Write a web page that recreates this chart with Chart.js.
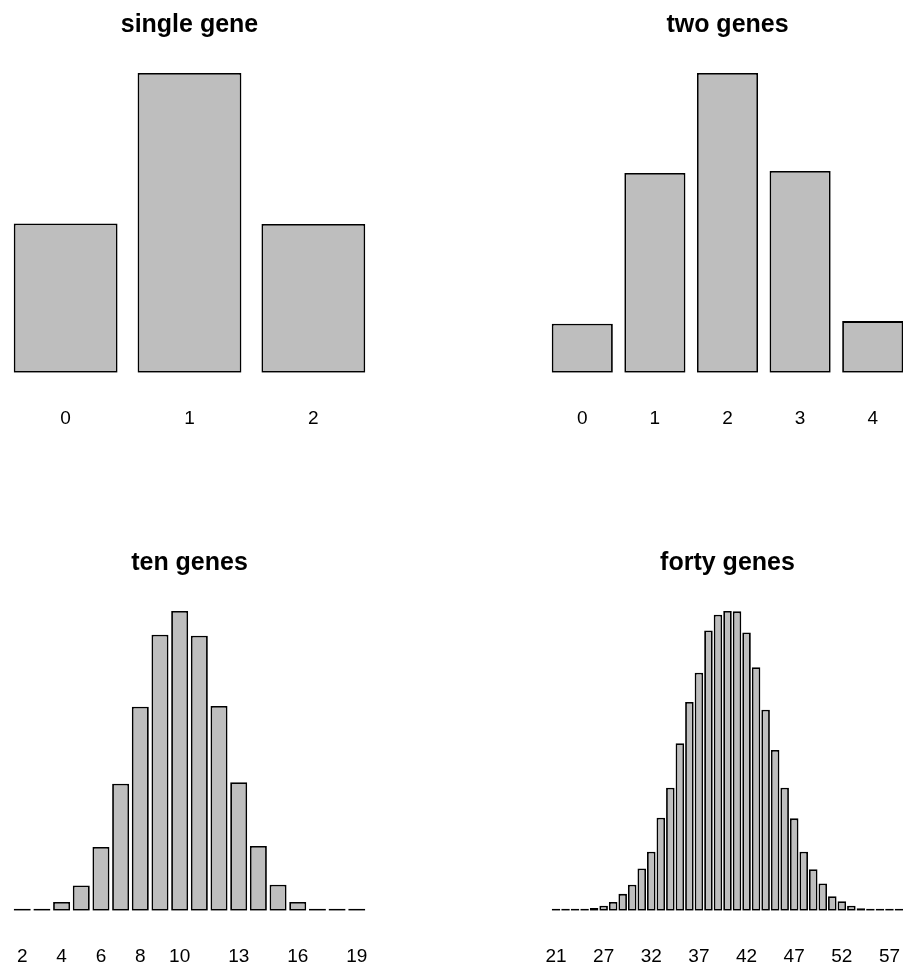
<!DOCTYPE html>
<html>
<head>
<meta charset="utf-8">
<script src="https://cdn.jsdelivr.net/npm/chart.js@4.4.1/dist/chart.umd.min.js"></script>
<style>
  html, body { margin: 0; padding: 0; background: #ffffff; overflow: hidden; }
  #page { position: relative; width: 903px; height: 963px; overflow: hidden; background: #ffffff; }
  .panel { position: absolute; }
  .panel canvas { display: block; }
</style>
</head>
<body>
<div id="page">
  <div class="panel" id="panelSingle"><canvas id="chartSingle"></canvas></div>
  <div class="panel" id="panelTwo"><canvas id="chartTwo"></canvas></div>
  <div class="panel" id="panelTen"><canvas id="chartTen"></canvas></div>
  <div class="panel" id="panelForty"><canvas id="chartForty"></canvas></div>
</div>
<script>
// Number of individuals carrying each count of "+" alleles, by number of genes.
const singleGeneLabels = ['0', '1', '2'];
const singleGeneCounts = [2497, 5015, 2488];
const singleGeneShown  = ['0', '1', '2'];

const twoGeneLabels = ['0', '1', '2', '3', '4'];
const twoGeneCounts = [611, 2493, 3740, 2518, 644];
const twoGeneShown  = ['0', '1', '2', '3', '4'];

const tenGeneLabels = ['2', '3', '4', '5', '6', '7', '8', '9', '10', '11',
                       '12', '13', '14', '15', '16', '17', '18', '19'];
const tenGeneCounts = [2, 10, 51, 148, 375, 747, 1199, 1623, 1762, 1617,
                       1203, 755, 380, 153, 51, 8, 1, 1];
const tenGeneShown  = ['2', '4', '6', '8', '10', '13', '16', '19'];

const fortyGeneLabels = ['21', '23', '24', '25', '26', '27', '28', '29', '30', '31',
                         '32', '33', '34', '35', '36', '37', '38', '39', '40', '41',
                         '42', '43', '44', '45', '46', '47', '48', '49', '50', '51',
                         '52', '53', '54', '55', '56', '57', '58'];
const fortyGeneCounts = [1, 1, 2, 3, 8, 15, 26, 50, 77, 125,
                         175, 276, 365, 497, 619, 706, 831, 878, 889, 888,
                         825, 722, 596, 477, 365, 274, 175, 123, 81, 43,
                         28, 15, 7, 3, 2, 1, 1];
const fortyGeneShown  = ['21', '27', '32', '37', '42', '47', '52', '57'];

// Panel geometry (barplot-style: unit-width bars, 0.2 spacing, 4% padding)
const PLOT_W = 379;
const BASE_Y = 373;          // baseline of bars within a panel
const TOP_Y = 61;            // top of the value range (max * 1.04)
const FONT = "'Liberation Sans', Arial, Helvetica, sans-serif";
const TITLE_SIZE = 25;
const TICK_SIZE = 19;
const TICK_GAP = 34.5;       // distance from baseline to the label line

function drawPanel(panelId, canvasId, left, top, title, labels, counts, shown) {
  const n = labels.length;
  const span = 1.2 * n - 0.2;
  const unit = PLOT_W / (1.08 * span);
  const side = (0.04 * span - 0.1) * unit;

  const tickLine = TICK_SIZE * 1.2;
  const height = Math.round(BASE_Y + TICK_GAP + tickLine);

  const panel = document.getElementById(panelId);
  panel.style.left = left + 'px';
  panel.style.top = top + 'px';
  const canvas = document.getElementById(canvasId);
  canvas.width = PLOT_W;
  canvas.height = height;
  canvas.style.width = PLOT_W + 'px';
  canvas.style.height = height + 'px';

  const titleLine = TITLE_SIZE * 1.2;
  const titleTop = 10;
  const titleBottom = TOP_Y - titleTop - titleLine;

  const peak = Math.max(...counts);

  new Chart(canvas, {
    type: 'bar',
    data: {
      labels: labels,
      datasets: [{
        data: counts,
        backgroundColor: '#bebebe',
        borderColor: '#000000',
        borderWidth: 1.8,
        borderSkipped: false,
        minBarLength: 2,
        categoryPercentage: 1,
        barPercentage: (unit + 0.6) / (1.2 * unit)
      }]
    },
    options: {
      responsive: false,
      animation: false,
      devicePixelRatio: 1,
      layout: { padding: { left: side, right: side, top: 0, bottom: 0 } },
      plugins: {
        legend: { display: false },
        tooltip: { enabled: false },
        title: {
          display: true,
          text: title,
          color: '#000000',
          font: { family: FONT, size: TITLE_SIZE, weight: 'bold' },
          padding: { top: titleTop, bottom: titleBottom }
        }
      },
      scales: {
        x: {
          offset: true,
          grid: { display: false, drawTicks: true, tickLength: TICK_GAP },
          border: { display: false },
          ticks: {
            autoSkip: false,
            maxRotation: 0,
            minRotation: 0,
            padding: 0,
            color: '#000000',
            font: { family: FONT, size: TICK_SIZE },
            callback: function (value) {
              const lab = this.getLabelForValue(value);
              return shown.includes(lab) ? lab : '';
            }
          }
        },
        y: {
          display: false,
          min: 0,
          max: peak * 1.04
        }
      }
    }
  });
}

const RIGHT_X = 537.7;
const LOWER_Y = 538;

drawPanel('panelSingle', 'chartSingle', 0, 0, 'single gene',
          singleGeneLabels, singleGeneCounts, singleGeneShown);
drawPanel('panelTwo', 'chartTwo', RIGHT_X, 0, 'two genes',
          twoGeneLabels, twoGeneCounts, twoGeneShown);
drawPanel('panelTen', 'chartTen', 0, LOWER_Y, 'ten genes',
          tenGeneLabels, tenGeneCounts, tenGeneShown);
drawPanel('panelForty', 'chartForty', RIGHT_X, LOWER_Y, 'forty genes',
          fortyGeneLabels, fortyGeneCounts, fortyGeneShown);
</script>
</body>
</html>
